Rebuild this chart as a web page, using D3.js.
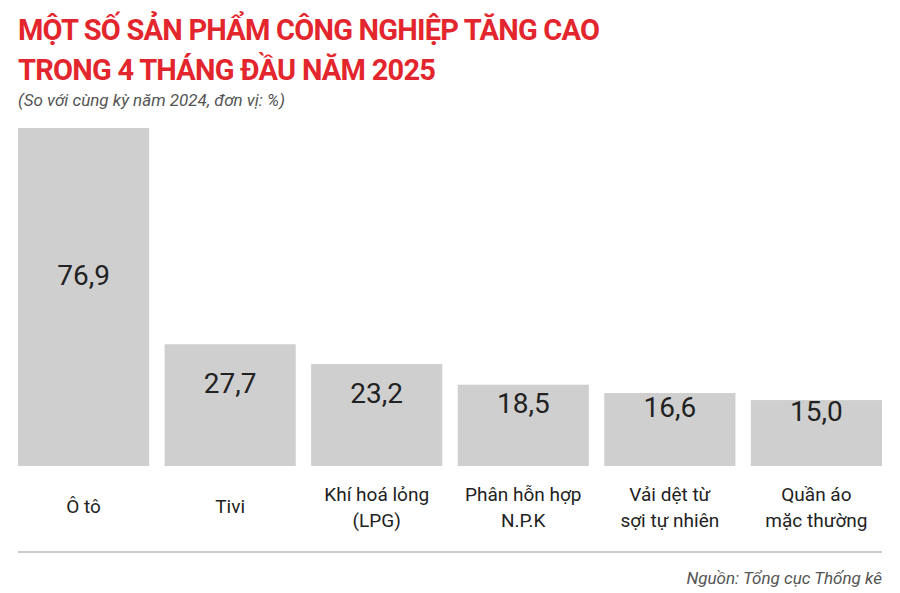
<!DOCTYPE html>
<html><head><meta charset="utf-8">
<script src="https://cdn.jsdelivr.net/npm/d3@7"></script>
<style>body{margin:0;background:#fff}</style>
</head><body>
<script>
const categories = [["Ô tô"],["Tivi"],["Khí hoá lỏng","(LPG)"],["Phân hỗn hợp","N.P.K"],["Vải dệt từ","sợi tự nhiên"],["Quần áo","mặc thường"]];
const values = [76.9,27.7,23.2,18.5,16.6,15.0];
const W=900,H=593;
const svg=d3.select("body").append("svg").attr("width",W).attr("height",H).style("font-family","Roboto");
const red="#e3262d";
svg.append("text").attr("x",18).attr("y",40).attr("fill",red).attr("font-size",29).attr("font-weight","bold").attr("textLength",582).text("MỘT SỐ SẢN PHẨM CÔNG NGHIỆP TĂNG CAO");
svg.append("text").attr("x",18).attr("y",80).attr("fill",red).attr("font-size",29).attr("font-weight","bold").attr("textLength",418).text("TRONG 4 THÁNG ĐẦU NĂM 2025");
svg.append("text").attr("x",18).attr("y",106).attr("fill","#555").attr("font-size",17).attr("font-style","italic").text("(So với cùng kỳ năm 2024, đơn vị: %)");
const x=d3.scaleBand().domain(d3.range(values.length)).range([18,882]).paddingInner(0.105).paddingOuter(0);
const y=d3.scaleLinear().domain([0,76.9]).range([466,128]);
const g=svg.append("g");
g.selectAll("rect").data(values).join("rect").attr("x",(d,i)=>x(i)).attr("width",x.bandwidth()).attr("y",d=>y(d)).attr("height",d=>466-y(d)).attr("fill","#d0cfcf");
g.selectAll(".v").data(values).join("text").attr("x",(d,i)=>x(i)+x.bandwidth()/2).attr("y",d=>(y(d)+466)/2-22).attr("dy","0.35em").attr("text-anchor","middle").attr("font-size",28).attr("fill","#222").text(d=>d.toFixed(1).replace(".",","));
categories.forEach((c,i)=>{
  c.forEach((l,j)=>{
    svg.append("text").attr("x",x(i)+x.bandwidth()/2).attr("y",(c.length==1?513:501+j*26)).attr("text-anchor","middle").attr("font-size",19).attr("fill","#222").text(l);
  });
});
svg.append("line").attr("x1",18).attr("x2",882).attr("y1",552).attr("y2",552).attr("stroke","#bbb").attr("stroke-width",1.5);
svg.append("text").attr("x",882).attr("y",584).attr("text-anchor","end").attr("font-size",17).attr("font-style","italic").attr("fill","#555").text("Nguồn: Tổng cục Thống kê");
</script>
</body></html>
